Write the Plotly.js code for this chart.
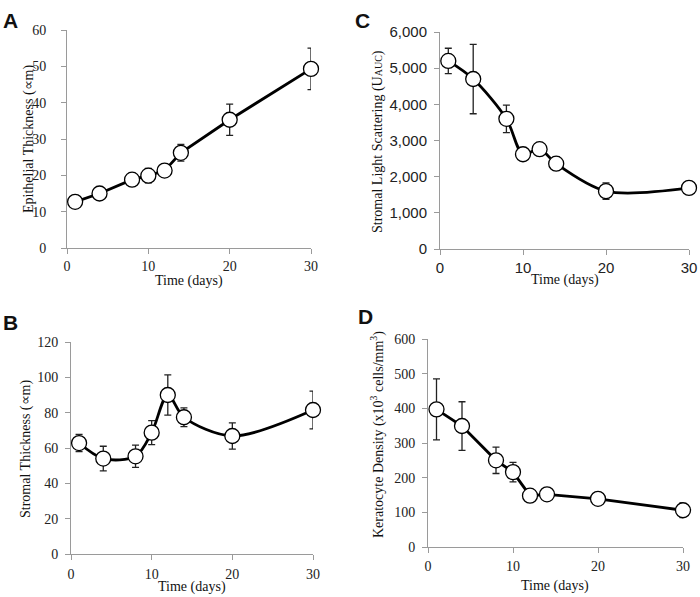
<!DOCTYPE html>
<html><head><meta charset="utf-8">
<script src="https://cdn.plot.ly/plotly-3.0.1.min.js"></script>
<style>html,body{margin:0;padding:0;background:#fff}#chart{width:700px;height:597px}</style>
</head><body><div id="chart"></div>
<script>
const days = [1, 4, 8, 10, 12, 14, 20, 30];
const epiThickness = [12.7, 15.0, 18.8, 19.9, 21.3, 26.2, 35.3, 49.3];
const epiErr = [1.2, 0.6, 0.8, 2.0, 0.8, 2.3, 4.3, 5.7];
const lightScatter = [5200, 4700, 3600, 2620, 2760, 2360, 1600, 1690];
const lightErr = [350, 960, 380, 130, 80, 185, 230, 0];
const stromalThickness = [62.8, 54.0, 55.3, 68.7, 90.0, 77.4, 66.8, 81.5];
const stromalErr = [4.9, 7.0, 6.3, 6.8, 11.4, 5.3, 7.4, 10.7];
const keratocyteDensity = [397, 349, 250, 216, 148, 152, 139, 106];
const keratoErr = [88, 70, 38, 28, 5, 5, 5, 21];
const xTicks = [0, 10, 20, 30];
const panelLetters = ['A', 'C', 'B', 'D'];
const xTitle = 'Time (days)';
const yTitles = [
  'Epithelial Thickness (\u221Dm)',
  'Stromal Light Scattering (U<span style="font-size:10px">AUC</span>)',
  'Stromal Thickness (\u221Dm)',
  'Keratocyte Density (x10<sup>3</sup> cells/mm<sup>3</sup>)'
];

const W = 700, H = 597;
const px = v => v / W;
const py = v => 1 - v / H;
const SERIF = 'Liberation Serif, Times New Roman, serif';
const SANS = 'Liberation Sans, Arial, sans-serif';

function trace(y, err, shape, n) {
  const s = n === 1 ? '' : String(n);
  return {
    x: days, y: y, type: 'scatter', mode: 'lines+markers', cliponaxis: false,
    xaxis: 'x' + s, yaxis: 'y' + s,
    line: {color: '#000', width: 2.8, shape: shape, smoothing: 0.9},
    marker: {symbol: 'circle', size: 15, color: '#fff', line: {color: '#000', width: 1.3}},
    error_y: {type: 'data', array: err, visible: true, color: '#222', thickness: 1.3, width: 3.5},
    showlegend: false, hoverinfo: 'x+y'
  };
}

const data = [
  trace(epiThickness, epiErr, 'linear', 1),
  trace(lightScatter, lightErr, 'spline', 2),
  trace(stromalThickness, stromalErr, 'spline', 3),
  trace(keratocyteDensity, keratoErr, 'linear', 4)
];

function xax(x0, x1, anchor, font, size, stand) {
  return {domain: [px(x0), px(x1)], anchor: anchor, range: [0, 30], tickvals: xTicks,
    showline: true, linecolor: '#9a9a9a', linewidth: 1, ticks: 'outside', ticklen: 5, tickcolor: '#9a9a9a',
    showgrid: false, zeroline: false, tickfont: {family: font, size: size, color: '#222'},
    ticklabelstandoff: stand, fixedrange: true};
}
function yax(y0, y1, anchor, max, dtick, font, size, fmt, stand) {
  return {domain: [py(y1), py(y0)], anchor: anchor, range: [0, max], dtick: dtick, tick0: 0,
    showline: true, linecolor: '#9a9a9a', linewidth: 1, ticks: 'outside', ticklen: 5, tickcolor: '#9a9a9a',
    showgrid: false, zeroline: false, tickfont: {family: font, size: size, color: '#222'},
    tickformat: fmt, ticklabelstandoff: stand, fixedrange: true};
}

const annotations = [];
function ann(text, x, y, font, size, angle, bold) {
  annotations.push({text: bold ? '<b>' + text + '</b>' : text, xref: 'paper', yref: 'paper',
    x: px(x), y: py(y), xanchor: 'center', yanchor: 'middle', showarrow: false,
    textangle: angle || 0, font: {family: font, size: size, color: '#111'}});
}
// panel letters
ann(panelLetters[0], 10, 20, SANS, 21, 0, true);
ann(panelLetters[1], 362, 20, SANS, 21, 0, true);
ann(panelLetters[2], 10, 322, SANS, 21, 0, true);
ann(panelLetters[3], 365, 316, SANS, 21, 0, true);
// x titles
ann(xTitle, 189, 281, SERIF, 14);
ann(xTitle, 565, 280, SERIF, 14);
ann(xTitle, 192, 587, SERIF, 14);
ann(xTitle, 555, 586, SERIF, 14);
// y titles
ann(yTitles[0], 29, 139, SERIF, 14, -90);
ann(yTitles[1], 378, 142, SERIF, 14, -90);
ann(yTitles[2], 26, 449, SERIF, 14, -90);
ann(yTitles[3], 377, 435, SERIF, 14, -90);

const layout = {
  width: W, height: H, margin: {l: 0, r: 0, t: 0, b: 0},
  paper_bgcolor: '#fff', plot_bgcolor: '#fff',
  xaxis: xax(67, 311, 'y', SERIF, 14, 0),
  yaxis: yax(30, 248, 'x', 60, 10, SERIF, 14, '', 12),
  xaxis2: xax(440, 689, 'y2', SANS, 15, 0),
  yaxis2: yax(32, 249, 'x2', 6000, 1000, SANS, 15, ',d', 4),
  xaxis3: xax(71, 313, 'y3', SERIF, 14, 2),
  yaxis3: yax(342, 554, 'x3', 120, 20, SERIF, 14, '', 4),
  xaxis4: xax(428, 683, 'y4', SERIF, 14, 1),
  yaxis4: yax(339, 547, 'x4', 600, 100, SERIF, 14, '', 4),
  annotations: annotations
};

Plotly.newPlot('chart', data, layout, {displayModeBar: false, staticPlot: true});
</script>
</body></html>
